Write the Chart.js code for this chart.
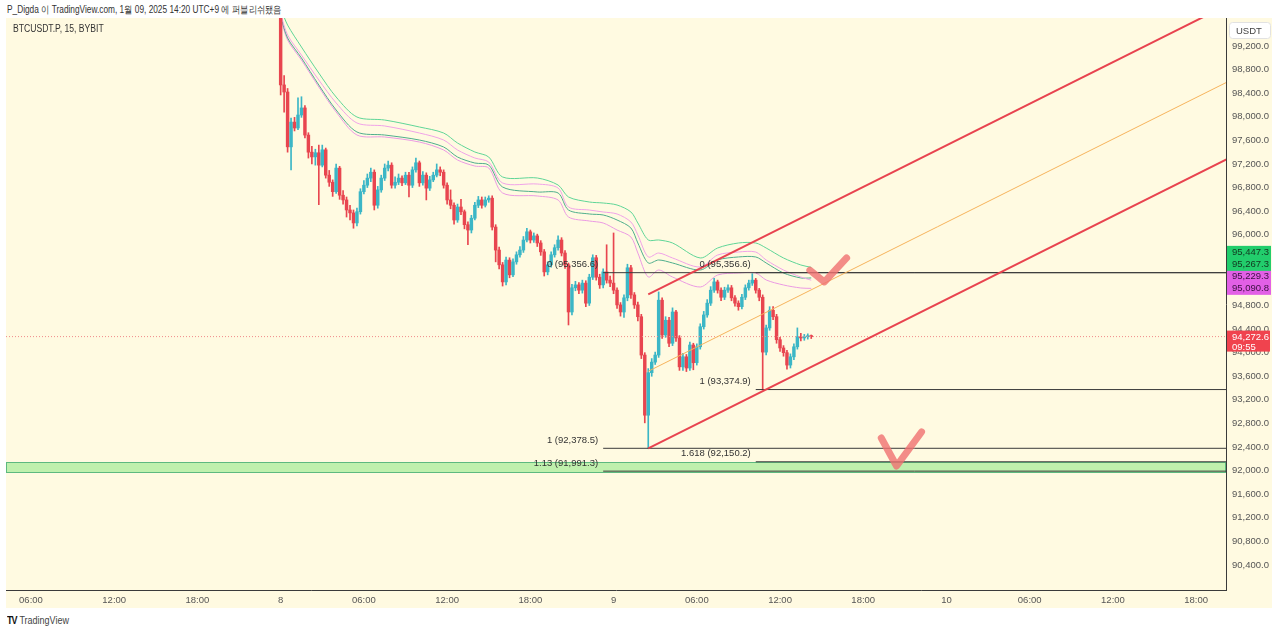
<!DOCTYPE html>
<html>
<head>
<meta charset="utf-8">
<script src="https://cdn.jsdelivr.net/npm/chart.js@4.4.1/dist/chart.umd.min.js"></script>
<style>
  body { margin: 0; width: 1280px; height: 634px; background: #fff; position: relative; overflow: hidden;
         font-family: "Liberation Sans", Arial, sans-serif; color: #333; }
  #hdr  { position: absolute; left: 7px; top: 3px; font-size: 10px; white-space: nowrap;
          transform: scaleX(0.83); transform-origin: left top; }
  #wrap { position: absolute; left: 6px; top: 18px; width: 1266px; height: 590px; background: #fffae1; }
  #sym  { position: absolute; left: 7px; top: 5px; font-size: 10px; white-space: nowrap;
          transform: scaleX(0.86); transform-origin: left top; }
  #foot { position: absolute; left: 7px; top: 615px; font-size: 10px; color: #444; white-space: nowrap;
          transform: scaleX(0.9); transform-origin: left top; }
  #foot b { font-size: 10px; color: #111; letter-spacing: -1px; margin-right: 3px; }
</style>
</head>
<body>
<div id="hdr">P_Digda 이 TradingView.com, 1월 09, 2025 14:20 UTC+9 에 퍼블리쉬됐음</div>
<div id="wrap">
  <canvas id="chart"></canvas>
  <div id="sym">BTCUSDT.P, 15, BYBIT</div>
</div>
<div id="foot"><b>TV</b>TradingView</div>

<script>
// --- Data: BTCUSDT.P 15m candles, hours counted from Jan 7 00:00 ---
const candleStart = 24;      // Jan 8 00:00
const candleStep  = 0.25;    // 15 minutes
const firstOpen   = 99900;

const closes = [
  98540, 98420, 97490, 97910, 97810, 98030, 98150, 97690, 97400, 97320,
  97390, 97180, 97440, 97010, 96890, 96730, 97130, 96670, 96590, 96420,
  96370, 96200, 96390, 96730, 96840, 96960, 97060, 96500, 96760, 96960,
  97130, 97180, 96840, 96890, 96960, 96880, 97010, 96840, 97100, 97220,
  96880, 97010, 96790, 96930, 97010, 97100, 97060, 96840, 96590, 96500,
  96250, 96470, 96390, 96170, 96080, 96280, 96500, 96590, 96500, 96590,
  96620, 96130, 95740, 95490, 95200, 95570, 95320, 95540, 95660, 95740,
  95910, 96050, 95910, 95980, 95860, 95710, 95370, 95490, 95660, 95780,
  95910, 95690, 95490, 94690, 95100, 95150, 95060, 95180, 94840, 95280,
  95610, 95280, 95150, 95370, 95230, 95180, 95060, 94810, 94690, 94930,
  95440, 94980, 94810, 94610, 93960, 92940, 93660, 93840, 93960, 94890,
  94300, 94550, 94160, 94690, 94250, 93760, 93930, 93740, 94130, 93830,
  94100, 94440, 94640, 94840, 95060, 95200, 95060, 94940, 95060, 95100,
  94930, 94840, 94780, 94940, 95100, 95180, 95230, 95060, 94940, 94010,
  94420, 94720, 94610, 94220, 94080, 94000, 93790, 93930, 94100, 94270,
  94250, 94270, 94280, 94272.6
];

const highs = [
  100050, 98700, 98480, 97980, 97990, 98320, 98340, 98190, 97730, 97500,
  97450, 97520, 97520, 97470, 97090, 96930, 97200, 97160, 96750, 96640,
  96500, 96420, 96450, 96780, 96920, 97030, 97130, 97100, 96820, 97010,
  97200, 97250, 97220, 96980, 97030, 97000, 97060, 97060, 97150, 97300,
  97250, 97070, 97050, 96990, 97060, 97200, 97150, 97100, 96880, 96760,
  96540, 96520, 96600, 96420, 96220, 96330, 96550, 96650, 96640, 96640,
  96660, 96660, 96170, 95790, 95530, 95620, 95610, 95590, 95710, 95800,
  95970, 96110, 96080, 96030, 96010, 95900, 95750, 95540, 95710, 95830,
  95980, 95950, 95730, 95520, 95160, 95210, 95190, 95230, 95220, 95330,
  95660, 95650, 95330, 95420, 95830, 95300, 96030, 95100, 94850, 94980,
  95500, 95480, 95020, 94860, 94650, 94000, 93730, 93900, 94010, 95030,
  94930, 94610, 94600, 94760, 94720, 94290, 93990, 93970, 94180, 94160,
  94150, 94490, 94700, 94900, 95120, 95260, 95230, 95100, 95110, 95150,
  95140, 94970, 94880, 94990, 95150, 95230, 95340, 95260, 95090, 94980,
  94470, 94780, 94780, 94650, 94260, 94120, 94040, 93980, 94150, 94420,
  94330, 94310, 94320, 94300
];

const lows = [
  98370, 98080, 97400, 97100, 97760, 97780, 97990, 97640, 97300, 97200,
  97180, 96510, 97150, 96960, 96820, 96650, 96700, 96600, 96520, 96300,
  96250, 96110, 96150, 96350, 96690, 96800, 96900, 96420, 96450, 96720,
  96920, 97080, 96790, 96790, 96850, 96830, 96850, 96640, 96800, 97060,
  96820, 96840, 96590, 96750, 96900, 96980, 97000, 96790, 96520, 96440,
  96180, 96210, 96340, 96100, 95830, 96030, 96250, 96460, 96450, 96470,
  96550, 96080, 95540, 95420, 95130, 95150, 95270, 95290, 95500, 95620,
  95700, 95880, 95860, 95870, 95800, 95650, 95300, 95320, 95450, 95620,
  95740, 95640, 95430, 94470, 94640, 95050, 95000, 95010, 94780, 94800,
  95240, 95230, 95090, 95100, 95180, 95120, 95000, 94750, 94620, 94600,
  94880, 94920, 94750, 94540, 93900, 92810, 92378.5, 93600, 93800, 93920,
  94240, 94260, 94100, 94120, 94190, 93700, 93700, 93680, 93700, 93710,
  93790, 94060, 94400, 94600, 94800, 95020, 95010, 94880, 94900, 95020,
  94880, 94790, 94720, 94740, 94900, 95060, 95140, 95010, 94880, 93374.9,
  93960, 94380, 94560, 94160, 94020, 93940, 93720, 93740, 93880, 94060,
  94200, 94210, 94230, 94240
];

// --- Band indicator (two green, two pink lines) ---
const maTimes = [24, 24.5, 25.5, 26.75, 28, 29.5, 31.5, 34, 35.75, 36.75, 38, 39, 40, 42.5, 44, 44.75,
                 46.25, 47.25, 48.25, 49.25, 49.75, 50.5, 51.25, 52.25, 54.25, 55.5, 57, 58.25, 59, 60.25, 61.5, 62.25];
const greenUpper = [99844, 99556, 99183, 98742, 98335, 97996, 97945, 97827, 97725, 97555, 97403, 97318, 96979, 96962, 96843, 96640,
                    96555, 96538, 96504, 96386, 96199, 95911, 95911, 95860, 95606, 95775, 95860, 95860, 95775, 95606, 95487, 95447.3];
const pinkUpper  = [99743, 99387, 99047, 98624, 98234, 97895, 97844, 97725, 97606, 97437, 97301, 97233, 96877, 96860, 96792, 96470,
                    96419, 96386, 96352, 96216, 95996, 95623, 95690, 95606, 95453, 95656, 95707, 95707, 95572, 95402, 95283, 95229.3];
const greenLower = [99709, 99336, 98997, 98539, 98115, 97742, 97691, 97606, 97488, 97318, 97216, 97182, 96809, 96725, 96708, 96419,
                    96352, 96335, 96250, 96114, 95860, 95521, 95572, 95521, 95402, 95572, 95623, 95623, 95521, 95351, 95267, 95267.3];
const pinkLower  = [99675, 99302, 98963, 98505, 98081, 97691, 97657, 97572, 97437, 97267, 97165, 97132, 96708, 96657, 96589, 96301,
                    96233, 96199, 96080, 95962, 95690, 95283, 95402, 95283, 95114, 95317, 95351, 95351, 95233, 95148, 95097, 95090.8];

// --- Drawings ---
const channelTimes = [50.5, 92.2];
const channelLower = [92378.5, 97280];
const channelMid   = [93685, 98585];
const channelUpper = [94990, 99890];

const fibAStart = 47.25, fibALevels = [0, 1, 1.13],  fibAPrices = [95356.6, 92378.5, 91991.3];
const fibBStart = 58.25, fibBLevels = [0, 1, 1.618], fibBPrices = [95356.6, 93374.9, 92150.2];

const zoneStart = 0, zoneTop = 92150.2, zoneBottom = 91975;

const check1Times = [62.15, 63.2, 64.8],  check1Prices = [95400, 95200, 95606];
const check2Times = [67.3, 68.4, 70.2],   check2Prices = [92554, 92079, 92656];

const countdown = "09:55";

// --- Axes ---
const xMin = 4.2, xMax = 92.15;
const yMin = 89976, yMax = 99675;
const timeTicks  = [6, 12, 18, 24, 30, 36, 42, 48, 54, 60, 66, 72, 78, 84, 90];
const timeLabels = ["06:00", "12:00", "18:00", "8", "06:00", "12:00", "18:00", "9",
                    "06:00", "12:00", "18:00", "10", "06:00", "12:00", "18:00"];
const priceTicks = [90400, 90800, 91200, 91600, 92000, 92400, 92800, 93200, 93600, 94000, 94400, 94800,
                    95200, 95600, 96000, 96400, 96800, 97200, 97600, 98000, 98400, 98800, 99200];

// --- Colours ---
const UP = "#3bb6c6", DOWN = "#e8454f";
const FONT = '"Liberation Sans", Arial, sans-serif';
const FSIZE = 9.5;

const fmt = v => v.toLocaleString("en-US", { minimumFractionDigits: 1, maximumFractionDigits: 1 });

// --- Candle helpers ---
const times  = closes.map((_, i) => candleStart + i * candleStep);
const opens  = closes.map((_, i) => i === 0 ? firstOpen : closes[i - 1]);
const colors = closes.map((c, i) => c >= opens[i] ? UP : DOWN);

function lineSet(xs, ys, color, width, extra = {}) {
  return Object.assign({
    type: "line",
    data: xs.map((t, i) => ({ x: t, y: ys[i] })),
    borderColor: color,
    borderWidth: width,
    pointRadius: 0,
    fill: false,
    tension: 0
  }, extra);
}

function fibSets(start, prices) {
  return prices.map(p => lineSet([start, xMax], [p, p], "#3a3a3a", 1));
}

const markStyle = { borderCapStyle: "round", borderJoinStyle: "round" };
const lastPrice = closes[closes.length - 1];

// drop the label padding Chart.js reserves so the plot runs edge to edge
function fixBox(size) {
  return s => {
    if (s.isHorizontal()) s.height = size; else s.width = size;
    s.paddingTop = s.paddingBottom = s.paddingLeft = s.paddingRight = 0;
  };
}

// --- Overlay: zone, fib labels, price tags ---
const overlay = {
  id: "overlay",
  beforeDatasetsDraw(chart) {
    const { ctx, chartArea: a, scales: { x, y } } = chart;
    const left = Math.max(a.left, x.getPixelForValue(zoneStart));
    const top  = Math.round(y.getPixelForValue(zoneTop));
    const bot  = Math.round(y.getPixelForValue(zoneBottom));
    ctx.save();
    ctx.fillStyle = "#bff0ad";
    ctx.fillRect(left, top, a.right - left, bot - top);
    ctx.strokeStyle = "#5db97f";
    ctx.lineWidth = 1;
    ctx.strokeRect(left + 0.5, top + 0.5, a.right - left - 1, bot - top);
    ctx.restore();
  },
  afterDraw(chart) {
    const { ctx, chartArea: a, scales: { x, y } } = chart;
    ctx.save();
    ctx.font = `${FSIZE}px ${FONT}`;
    ctx.textBaseline = "middle";

    // fib level labels, right aligned just left of each tool
    ctx.fillStyle = "#333";
    ctx.textAlign = "right";
    [[fibAStart, fibALevels, fibAPrices], [fibBStart, fibBLevels, fibBPrices]].forEach(([t, lv, pr]) => {
      const px = x.getPixelForValue(t) - 5;
      lv.forEach((l, i) => ctx.fillText(`${l} (${fmt(pr[i])})`, px, y.getPixelForValue(pr[i]) - 8));
    });

    // indicator price tags, stacked upward from the lowest
    ctx.textAlign = "left";
    const tagVals = [greenUpper, greenLower, pinkUpper, pinkLower].map(s => s[s.length - 1]);
    const tagFill = ["#22cd6c", "#22cd6c", "#e260e6", "#e260e6"];
    const tagInk  = ["#12361f", "#12361f", "#3b0f42", "#3b0f42"];
    const order = tagVals.map((v, i) => i).sort((p, q) => tagVals[p] - tagVals[q]);
    let prev = Infinity;
    const pos = [];
    order.forEach(i => { pos[i] = Math.min(y.getPixelForValue(tagVals[i]), prev - 12); prev = pos[i]; });
    order.forEach(i => {
      ctx.fillStyle = tagFill[i];
      ctx.fillRect(a.right + 1, pos[i] - 6.5, 44, 13);
    });
    order.forEach(i => {
      ctx.fillStyle = tagInk[i];
      ctx.fillText(fmt(tagVals[i]), a.right + 6, pos[i] + 0.5);
    });

    // last price tag
    const ly = y.getPixelForValue(lastPrice);
    ctx.fillStyle = "#f0434e";
    ctx.fillRect(a.right + 1, ly - 6, 43, 21);
    ctx.fillStyle = "#fff";
    ctx.fillText(fmt(lastPrice), a.right + 6, ly + 0.5);
    ctx.fillText(countdown, a.right + 6, ly + 10.5);

    // currency box
    ctx.fillStyle = "#fff";
    ctx.strokeStyle = "#e2e2e2";
    ctx.beginPath();
    ctx.roundRect(a.right + 3.5, 4.5, 41, 16, 3);
    ctx.fill();
    ctx.stroke();
    ctx.fillStyle = "#444";
    ctx.fillText("USDT", a.right + 10, 13);
    ctx.restore();
  }
};

// --- Chart ---
new Chart(document.getElementById("chart"), {
  type: "bar",
  data: {
    datasets: [
      lineSet(check1Times, check1Prices, "rgba(240, 112, 112, 0.8)", 7, markStyle),
      lineSet(check2Times, check2Prices, "rgba(240, 112, 112, 0.8)", 7, markStyle),
      lineSet(channelTimes, channelUpper, "#e8434f", 2),
      lineSet(channelTimes, channelLower, "#e8434f", 2),
      lineSet(channelTimes, channelMid, "#f6b35c", 1),
      ...fibSets(fibAStart, fibAPrices),
      ...fibSets(fibBStart, fibBPrices),
      lineSet([xMin, xMax], [lastPrice, lastPrice], "#f08a8a", 1, { borderDash: [1, 2] }),
      {
        data: times.map((t, i) => ({ x: t, y: [opens[i], closes[i]] })),
        backgroundColor: colors,
        barThickness: 2.8,
        minBarLength: 1,
        grouped: false,
        borderWidth: 0
      },
      {
        data: times.map((t, i) => ({ x: t, y: [lows[i], highs[i]] })),
        backgroundColor: colors,
        barThickness: 1,
        grouped: false,
        borderWidth: 0
      },
      lineSet(maTimes, greenUpper, "#5fd597", 1, { tension: 0.3 }),
      lineSet(maTimes, pinkUpper,  "#f0a2e8", 1, { tension: 0.3 }),
      lineSet(maTimes, greenLower, "#4fae8c", 1, { tension: 0.3 }),
      lineSet(maTimes, pinkLower,  "#eb9ae3", 1, { tension: 0.3 })
    ]
  },
  options: {
    responsive: true,
    maintainAspectRatio: false,
    animation: false,
    layout: { padding: 0 },
    plugins: { legend: { display: false }, tooltip: { enabled: false } },
    scales: {
      x: {
        type: "linear",
        min: xMin,
        max: xMax,
        offset: false,
        grid: { display: false, drawTicks: false },
        border: { display: true, color: "#3a3a3a", width: 1 },
        afterBuildTicks: s => { s.ticks = timeTicks.map(v => ({ value: v })); },
        afterFit: fixBox(18),
        ticks: {
          autoSkip: false,
          maxRotation: 0,
          padding: 5,
          color: "#555",
          font: { family: FONT, size: FSIZE },
          callback: v => timeLabels[timeTicks.indexOf(v)]
        }
      },
      y: {
        type: "linear",
        position: "right",
        min: yMin,
        max: yMax,
        grid: { display: false, drawTicks: false },
        border: { display: true, color: "#3a3a3a", width: 1 },
        afterBuildTicks: s => { s.ticks = priceTicks.map(v => ({ value: v })); },
        afterFit: fixBox(46),
        ticks: {
          padding: 6,
          color: "#555",
          font: { family: FONT, size: FSIZE },
          callback: v => fmt(v)
        }
      }
    }
  },
  plugins: [overlay]
});
</script>
</body>
</html>
